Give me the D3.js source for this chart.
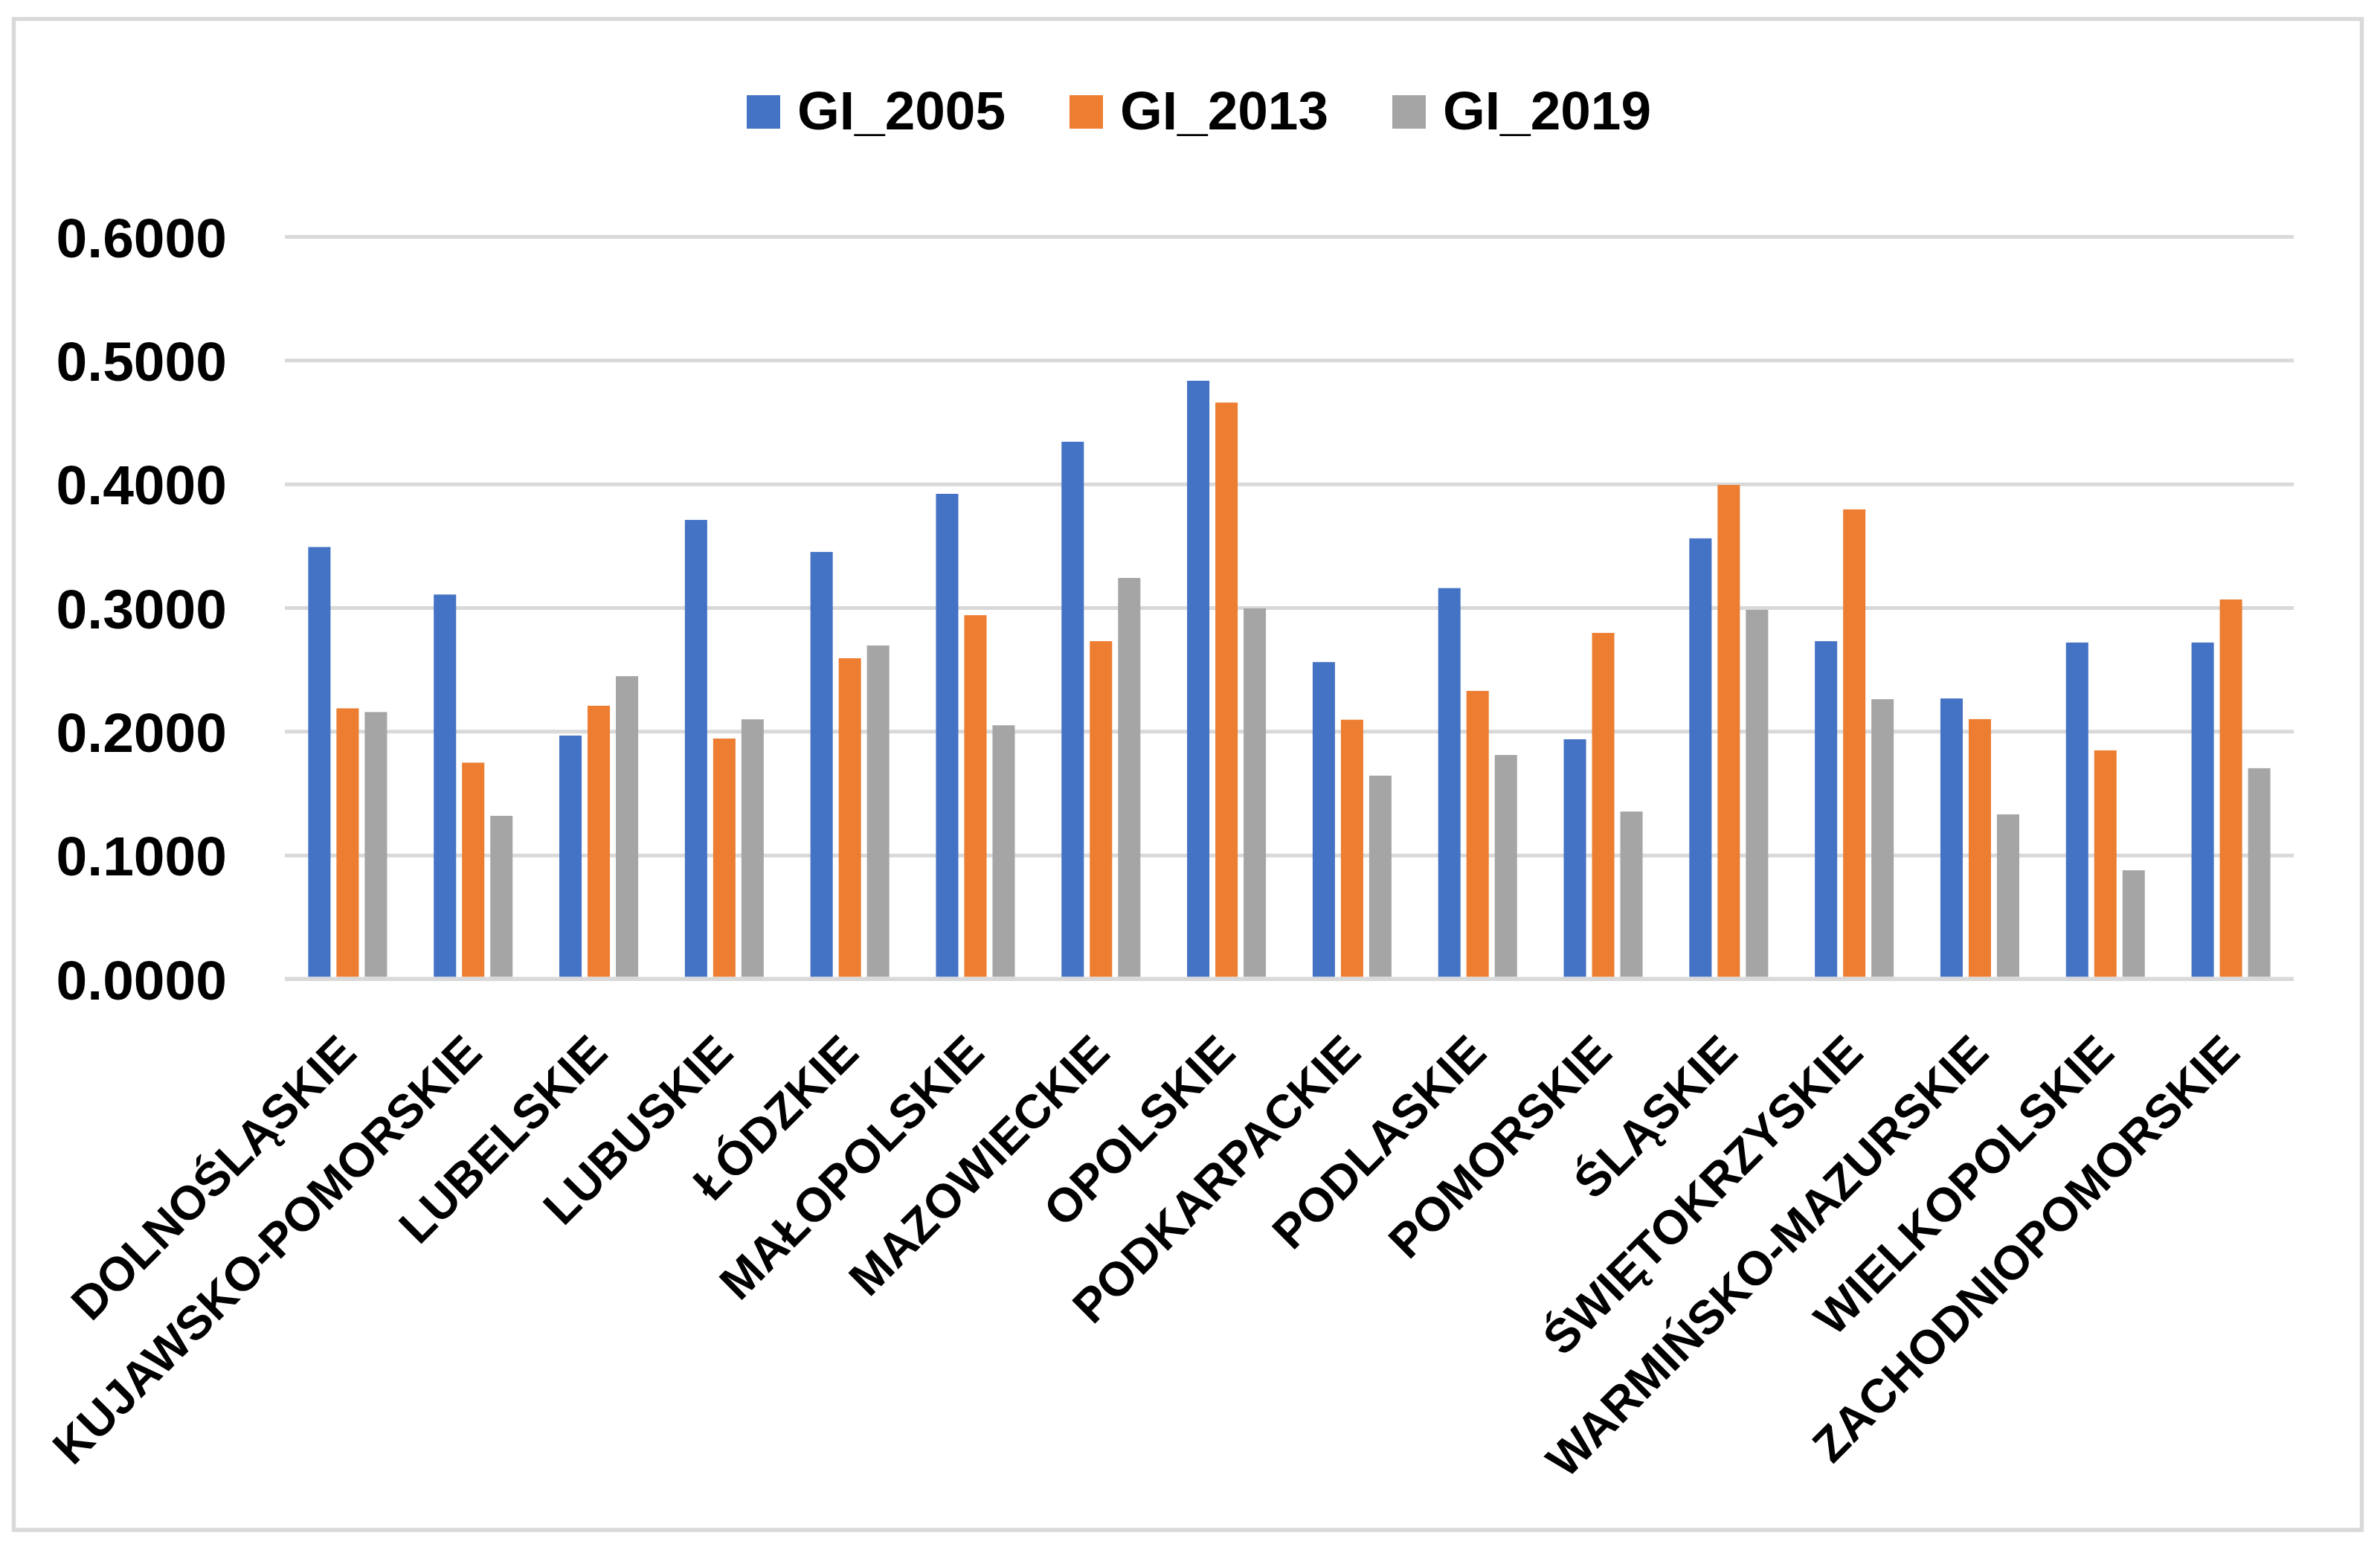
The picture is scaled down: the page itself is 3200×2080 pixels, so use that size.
<!DOCTYPE html>
<html>
<head>
<meta charset="utf-8">
<script src="https://cdn.jsdelivr.net/npm/d3@7"></script>
<style>
  html, body { margin: 0; padding: 0; background: #ffffff; }
  svg { display: block; }
  text { font-family: "Liberation Sans", Arial, sans-serif; font-weight: bold; fill: #000; }
</style>
</head>
<body>
<svg id="chart" width="3200" height="2080"></svg>
<script>
const categories = ["DOLNOŚLĄSKIE","KUJAWSKO-POMORSKIE","LUBELSKIE","LUBUSKIE","ŁÓDZKIE","MAŁOPOLSKIE","MAZOWIECKIE","OPOLSKIE","PODKARPACKIE","PODLASKIE","POMORSKIE","ŚLĄSKIE","ŚWIĘTOKRZYSKIE","WARMIŃSKO-MAZURSKIE","WIELKOPOLSKIE","ZACHODNIOPOMORSKIE"];
const seriesNames = ["GI_2005","GI_2013","GI_2019"];
const gi2005 = [0.3490,0.3106,0.1966,0.3709,0.3450,0.3920,0.4341,0.4834,0.2560,0.3158,0.1936,0.3560,0.2729,0.2266,0.2718,0.2718];
const gi2013 = [0.2186,0.1747,0.2207,0.1942,0.2591,0.2939,0.2729,0.4658,0.2094,0.2327,0.2796,0.3992,0.3794,0.2099,0.1846,0.3066];
const gi2019 = [0.2156,0.1317,0.2446,0.2097,0.2694,0.2049,0.3240,0.2995,0.1642,0.1809,0.1352,0.2982,0.2260,0.1329,0.0877,0.1702];
const yTicks = [0, 0.1, 0.2, 0.3, 0.4, 0.5, 0.6];
const colors = ["#4472C4", "#ED7D31", "#A5A5A5"];

const seriesValues = [gi2005, gi2013, gi2019];
const data = categories.map((c, i) => ({ cat: c, vals: seriesNames.map((s, j) => ({ key: s, v: seriesValues[j][i] })) }));

const svg = d3.select("#chart");
svg.append("rect").attr("width", 3200).attr("height", 2080).attr("fill", "#fff");

// outer border
svg.append("rect")
  .attr("x", 18.5).attr("y", 25.5).attr("width", 3157).attr("height", 2031.5)
  .attr("fill", "none").attr("stroke", "#d9d9d9").attr("stroke-width", 5.5);

const plot = { left: 383, right: 3084, top: 318, bottom: 1316 };

const x0 = d3.scaleBand().domain(categories).range([plot.left, plot.right]).paddingInner(0).paddingOuter(0);
const x1 = d3.scaleBand().domain(seriesNames).range([-57, 57]).paddingInner(0.21).paddingOuter(0.105);
const y = d3.scaleLinear().domain([0, 0.6]).range([plot.bottom, plot.top]);
const color = d3.scaleOrdinal().domain(seriesNames).range(colors);

// gridlines + y labels
const yAxis = d3.axisLeft(y).tickValues(yTicks).tickSize(-(plot.right - plot.left)).tickFormat(d3.format(".4f")).tickPadding(78);
const gy = svg.append("g").attr("transform", `translate(${plot.left},0)`).call(yAxis);
gy.select(".domain").remove();
gy.selectAll(".tick line").attr("stroke", "#d9d9d9").attr("stroke-width", 5);
gy.selectAll(".tick text")
  .attr("font-size", 75).attr("font-family", "Liberation Sans, Arial, sans-serif")
  .attr("font-weight", "bold").attr("fill", "#000").attr("dy", "0.36em");

// bars
const groups = svg.append("g").selectAll("g").data(data).join("g")
  .attr("transform", d => `translate(${x0(d.cat) + x0.bandwidth() / 2},0)`);
groups.selectAll("rect").data(d => d.vals).join("rect")
  .attr("x", d => x1(d.key))
  .attr("width", x1.bandwidth())
  .attr("y", d => y(d.v))
  .attr("height", d => y(0) - y(d.v) - 2.5)
  .attr("fill", d => color(d.key));

// x-axis line + category labels
const xAxis = d3.axisBottom(x0).tickSize(0).tickPadding(0);
const gx = svg.append("g").attr("transform", `translate(0,${plot.bottom})`).call(xAxis);
gx.select(".domain").attr("stroke", "#d9d9d9").attr("stroke-width", 5)
  .attr("d", `M${plot.left},0H${plot.right}`);
gx.selectAll(".tick text")
  .attr("font-size", 64).attr("font-family", "Liberation Sans, Arial, sans-serif")
  .attr("font-weight", "bold").attr("fill", "#000")
  .attr("text-anchor", "end")
  .attr("dy", 0).attr("y", 0)
  .attr("transform", "translate(15,103) rotate(-45)");

// legend
const legend = svg.append("g");
const legX = [1004, 1438, 1872];
seriesNames.forEach((s, i) => {
  const g = legend.append("g").attr("transform", `translate(${legX[i]},128)`);
  g.append("rect").attr("width", 45).attr("height", 45).attr("fill", colors[i]);
  g.append("text").attr("x", 68).attr("y", 46).attr("font-size", 73).text(s);
});
</script>
</body>
</html>
